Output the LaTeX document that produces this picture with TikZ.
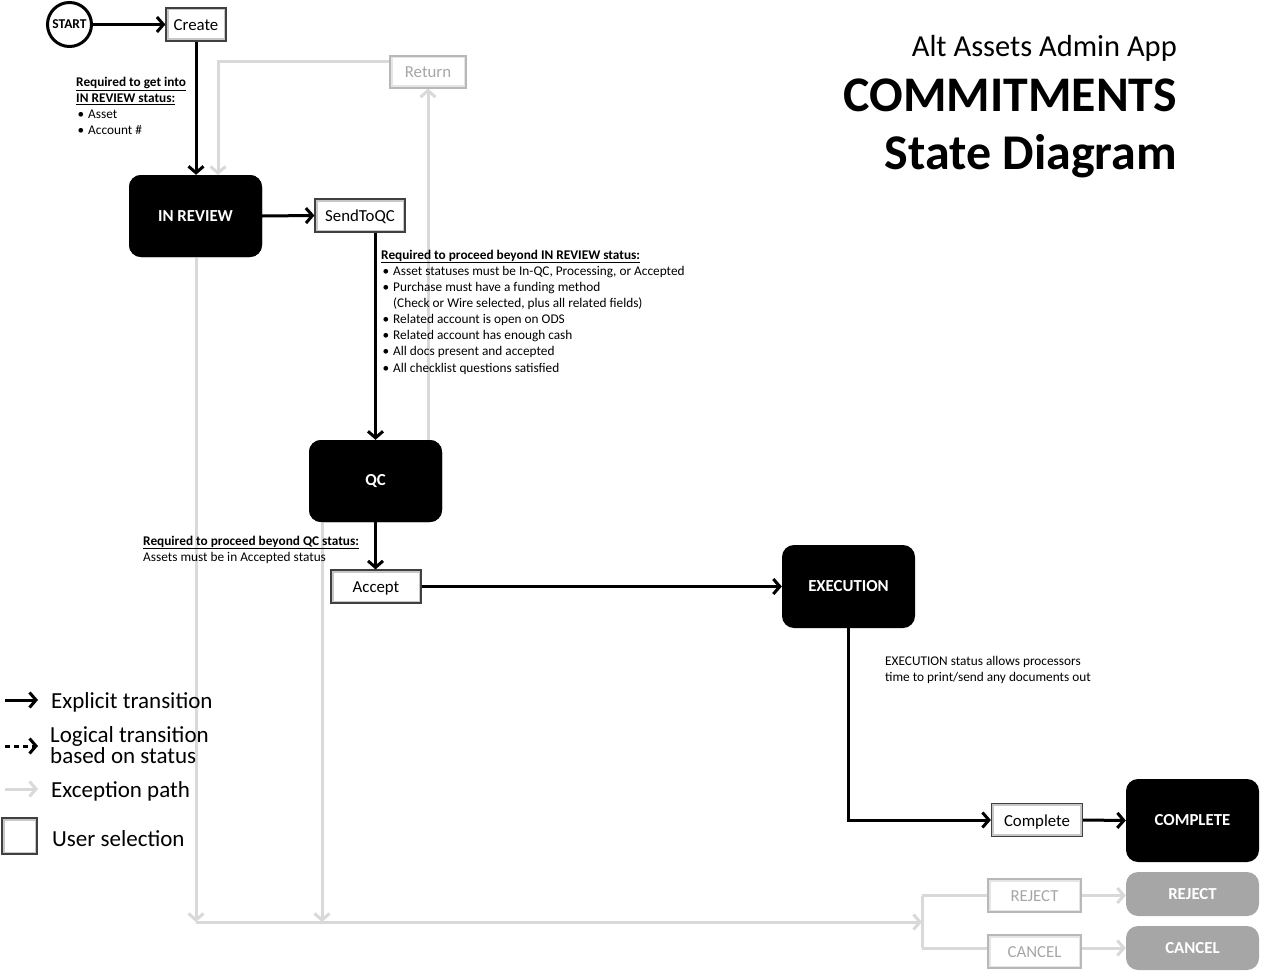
\documentclass[tikz,border=0pt]{standalone}
\usepackage{fontspec}
\setmainfont{Carlito}
\usetikzlibrary{arrows.meta}
\definecolor{excol}{HTML}{D9D9D9}
\definecolor{gtxt}{HTML}{A6A6A6}
\definecolor{gst}{HTML}{A6A6A6}
\newcommand\selfnt{\fontsize{16.8}{19}\selectfont}
\newcommand\stfnt{\bfseries\fontsize{16.8}{19}\selectfont}
\newcommand\notefnt{\fontsize{13.3}{16}\selectfont}
\newcommand\legfnt{\fontsize{23}{19.5}\selectfont}
\newcommand\bul{\makebox[12pt][l]{\hspace{1.5pt}\textbullet}}
\newcommand\ind{\hspace*{12pt}}
\begin{document}
\begin{tikzpicture}[x=1pt,y=-1pt,
  state/.style={fill=black, rounded corners=12pt, text=white, font=\stfnt,
    minimum width=133pt, minimum height=82pt, inner sep=0pt},
  gstate/.style={state, fill=gst, minimum height=44pt},
  sel/.style={draw=black!75, line width=1.2pt, fill=white, inner sep=0pt,
    font=\selfnt, minimum height=33pt, text height=13pt, text depth=1pt,
    path picture={\draw[black!22, line width=5pt]
      (path picture bounding box.south west) rectangle (path picture bounding box.north east);}},
  gsel/.style={sel, draw=black!28, text=gtxt,
    path picture={\draw[black!10, line width=5pt]
      (path picture bounding box.south west) rectangle (path picture bounding box.north east);}},
  tr/.style={line width=3pt, -{Straight Barb[length=6.5pt,width=15pt]}},
  ex/.style={tr, draw=excol},
  exl/.style={line width=3pt, draw=excol},
  note/.style={font=\notefnt, anchor=base west, inner sep=0pt},
  leg/.style={font=\legfnt, anchor=base west, inner sep=0pt},
]
\useasboundingbox (0,0) rectangle (1261,971);

% ---------- title ----------
\node[anchor=base east, inner sep=0pt, font=\fontsize{30.5}{34}\selectfont] (t1) at (1177,57) {Alt Assets Admin App};
\node[anchor=base east, inner sep=0pt, font=\bfseries\fontsize{49.8}{56}\selectfont] (t2) at (1177,112) {COMMITMENTS};
\node[anchor=base east, inner sep=0pt, font=\bfseries\fontsize{50}{56}\selectfont] (t3) at (1177,170) {State Diagram};

% ---------- nodes ----------
\node[circle, draw, line width=3pt, minimum size=44pt, inner sep=0pt, font=\bfseries\fontsize{13.5}{15}\selectfont] (start) at (69.5,24.5) {START};
\node[sel, minimum width=60pt] (create) at (196,24.5) {Create};
\node[gsel, minimum width=76pt, minimum height=32pt] (ret) at (428,72) {Return};
\node[state] (inrev) at (195.5,216) {IN REVIEW};
\node[sel, minimum width=90pt] (send) at (360,215.5) {SendToQC};
\node[state] (qc) at (375.5,481) {QC};
\node[sel, minimum width=90pt] (accept) at (376,586.5) {Accept};
\node[state, minimum height=83pt] (exec) at (848.5,586.5) {EXECUTION};
\node[sel, minimum width=91pt] (compl) at (1037,820) {Complete};
\node[state, minimum height=83pt] (complst) at (1192.5,820.5) {COMPLETE};
\node[gsel, minimum width=93pt] (rejb) at (1034.5,895.5) {REJECT};
\node[gsel, minimum width=93pt] (canb) at (1034.5,951.5) {CANCEL};
\node[gstate] (rejs) at (1192.5,894) {REJECT};
\node[gstate] (cans) at (1192.5,948) {CANCEL};

% ---------- exception paths ----------
\coordinate (r1) at (390,62);
\coordinate (r2) at (218,175);
\coordinate (b1) at (196,922);
\coordinate (b2) at (322,922);
\coordinate (br) at (922,922);
\coordinate (brt) at (922,895.5);
\coordinate (brb) at (922,948);
\draw[ex] (r1) -| (r2);
\draw[ex] (qc.north -| ret.south) -- (ret.south);
\draw[ex] (inrev.south -| b1) -- (b1);
\draw[ex] (qc.south -| b2) -- (b2);
\draw[ex] (b1) -- (br);
\draw[exl] (brt) -- (brb);
\draw[exl] (brt) -- (rejb.west);
\draw[exl] (brb) -- (canb.west |- brb);
\draw[ex] (rejb.east) -- (rejs.west |- rejb.east);
\draw[ex] (canb.east |- cans.west) -- (cans.west);

% ---------- explicit transitions ----------
\draw[tr] (start.east) -- (create.west);
\draw[tr] (create.south) -- (create.south |- inrev.north);
\draw[tr] (inrev.east) -- (send.west);
\draw[tr] (qc.north |- send.south) -- (qc.north);
\draw[tr] (qc.south) -- (qc.south |- accept.north);
\draw[tr] (accept.east) -- (exec.west);
\draw[tr] (exec.south) |- (compl.west);
\draw[tr] (compl.east) -- (complst.west);

% redraw nodes on top of gray lines
\node[state] at (inrev) {IN REVIEW};
\node[state] at (qc) {QC};
\node[gsel, minimum width=76pt, minimum height=32pt] at (ret) {Return};

% ---------- notes ----------
\node[note] (n1a) at (76,87) {\underline{\textbf{Required to get into}}};
\node[note] (n1b) at (76,103) {\underline{\textbf{IN REVIEW status:}}};
\node[note] (n1c) at (76,119) {\bul Asset};
\node[note] (n1d) at (76,135) {\bul Account \#};

\node[note] (n2a) at (381,259) {\underline{\textbf{Required to proceed beyond IN REVIEW status:}}};
\node[note] (n2b) at (381,275) {\bul Asset statuses must be In-QC, Processing, or Accepted};
\node[note] (n2c) at (381,291) {\bul Purchase must have a funding method};
\node[note] (n2d) at (381,307) {\ind(Check or Wire selected, plus all related fields)};
\node[note] (n2e) at (381,323) {\bul Related account is open on ODS};
\node[note] (n2f) at (381,339) {\bul Related account has enough cash};
\node[note] (n2g) at (381,355) {\bul All docs present and accepted};
\node[note] (n2h) at (381,372) {\bul All checklist questions satisfied};

\node[note] (n3a) at (143,545) {\underline{\textbf{Required to proceed beyond QC status:}}};
\node[note] (n3b) at (143,561) {Assets must be in Accepted status};

\node[note] (n4a) at (885,665) {EXECUTION status allows processors};
\node[note] (n4b) at (885,681) {time to print/send any documents out};

% ---------- legend ----------
\coordinate (l1a) at (5,700); \coordinate (l1b) at (38,700);
\coordinate (l2a) at (5,746); \coordinate (l2b) at (38,746);
\coordinate (l3a) at (5,789); \coordinate (l3b) at (38,789);
\draw[tr] (l1a) -- (l1b);
\draw[tr, dash pattern=on 5pt off 4pt] (l2a) -- (l2b);
\draw[ex] (l3a) -- (l3b);
\node[sel, minimum width=35pt, minimum height=36pt] (lbox) at (19.5,836) {};
\node[leg] (lt1) at (51,708) {Explicit transition};
\node[leg, align=left, anchor=west] (lt2) at (50,745) {Logical transition\\based on status};
\node[leg] (lt4) at (51,797) {Exception path};
\node[leg] (lt5) at (52,846) {User selection};
\end{tikzpicture}
\end{document}
